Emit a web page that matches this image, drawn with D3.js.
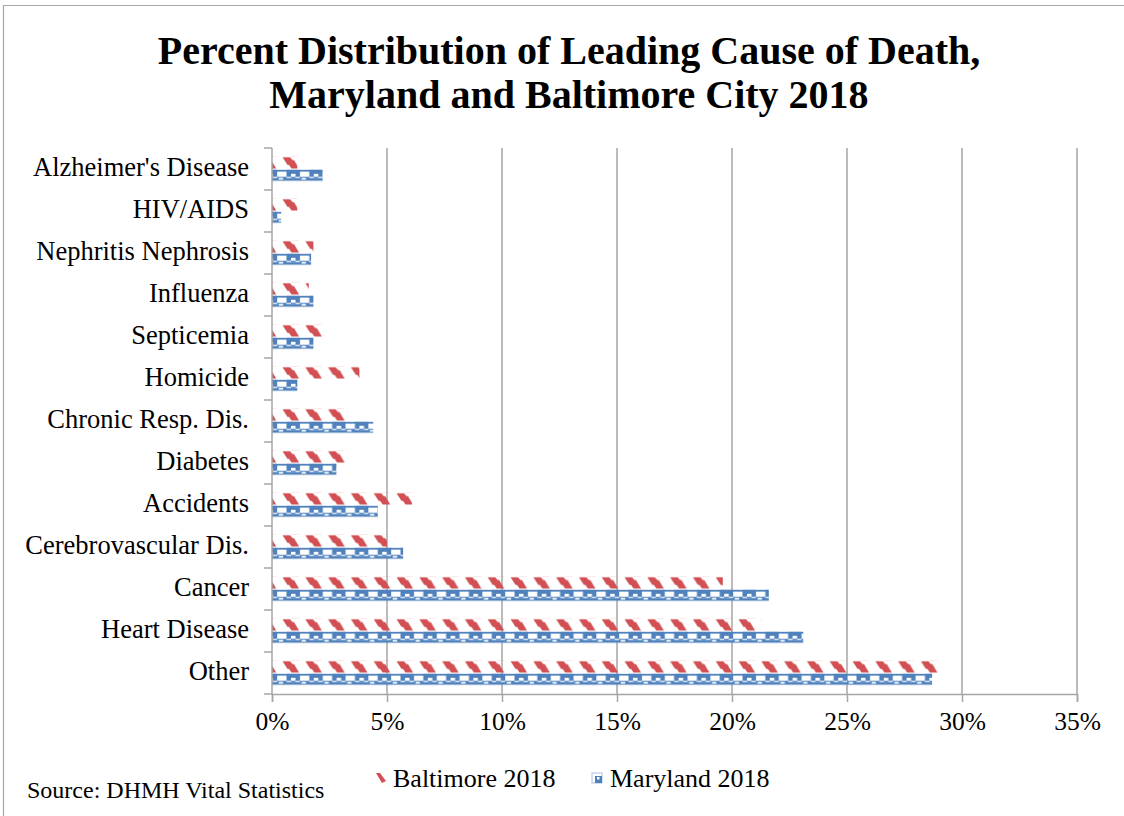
<!DOCTYPE html>
<html>
<head>
<meta charset="utf-8">
<script src="https://cdn.jsdelivr.net/npm/d3@7"></script>
<style>
  html, body { margin: 0; padding: 0; background: #fff; }
  svg { display: block; }
  text { font-family: "Liberation Serif", "Times New Roman", serif; fill: #000; }
</style>
</head>
<body>
<svg id="chart" width="1124" height="816"></svg>
<script>
// Leading causes of death, listed top to bottom
const categories = [
  "Alzheimer's Disease", "HIV/AIDS", "Nephritis Nephrosis", "Influenza",
  "Septicemia", "Homicide", "Chronic Resp. Dis.", "Diabetes", "Accidents",
  "Cerebrovascular Dis.", "Cancer", "Heart Disease", "Other"
];
const seriesNames = ["Baltimore 2018", "Maryland 2018"];
// Percent of all deaths
const baltimore = [1.1, 1.1, 1.8, 1.6, 2.3, 3.8, 3.2, 3.3, 6.1, 5.0, 19.6, 21.3, 29.1];
const maryland  = [2.2, 0.4, 1.7, 1.8, 1.8, 1.1, 4.4, 2.8, 4.6, 5.7, 21.6, 23.1, 28.7];
const xTicks = [0, 5, 10, 15, 20, 25, 30, 35];
const titleLines = [
  "Percent Distribution of Leading Cause of Death,",
  "Maryland and Baltimore City 2018"
];
const sourceNote = "Source: DHMH Vital Statistics";

const RED = "#d24f53";
const BLUE = "#4f81bd";
const GRID = "#a6a6a6";

const svg = d3.select("#chart");

// outer chart border (top and left edges are visible)
svg.append("path")
  .attr("d", "M3.5,816 V5.5 H1124")
  .attr("fill", "none").attr("stroke", GRID).attr("stroke-width", 1.2);

const plot = { left: 272, right: 1077, top: 148, bottom: 694 };

const x = d3.scaleLinear().domain([0, 35]).range([plot.left, plot.right]);
const y = d3.scaleBand().domain(categories).range([plot.top, plot.bottom]).paddingInner(0).paddingOuter(0);
const groupH = 25;
const yInner = d3.scaleBand().domain(seriesNames)
  .range([(y.bandwidth() - groupH) / 2, (y.bandwidth() + groupH) / 2]);
const barH = yInner.bandwidth();

// fill patterns
const defs = svg.append("defs");
const tileW = 22.8;

const redPat = defs.append("pattern")
  .attr("id", "patRed").attr("patternUnits", "userSpaceOnUse")
  .attr("x", plot.left + 10).attr("y", 0).attr("width", tileW).attr("height", barH);
redPat.append("polygon")
  .attr("points", `0.5,0.8 8,0.8 10.5,3.5 12,3.5 17,${barH - 0.6} 9.5,${barH - 0.6} 7,8.5 5.5,8.5`)
  .attr("fill", RED);
// wrap-around piece of the dash so tile edges stay continuous
redPat.append("polygon")
  .attr("points", `${-tileW + 0.5},0.8 ${-tileW + 8},0.8 ${-tileW + 10.5},3.5 ${-tileW + 12},3.5 ${-tileW + 17},${barH - 0.6} ${-tileW + 9.5},${barH - 0.6} ${-tileW + 7},8.5 ${-tileW + 5.5},8.5`)
  .attr("fill", RED);

const bluePat = defs.append("pattern")
  .attr("id", "patBlue").attr("patternUnits", "userSpaceOnUse")
  .attr("x", plot.left + 13).attr("y", 0).attr("width", tileW).attr("height", barH);
bluePat.append("rect").attr("x", 0).attr("y", 0.8).attr("width", tileW).attr("height", 1.8).attr("fill", BLUE);
bluePat.append("rect").attr("x", 1.5).attr("y", 0.8).attr("width", 13.5).attr("height", 7).attr("fill", BLUE);
bluePat.append("rect").attr("x", 6).attr("y", 4.8).attr("width", 4.5).attr("height", 3).attr("fill", "#fff");
bluePat.append("rect").attr("x", 0).attr("y", 7.8).attr("width", tileW).attr("height", 3.9).attr("fill", BLUE);
bluePat.append("rect").attr("x", 16.5).attr("y", 8.9).attr("width", 4.5).attr("height", 1.7).attr("fill", "#fff");
bluePat.append("rect").attr("x", 1.5).attr("y", 7.8).attr("width", 13.5).attr("height", 1.2).attr("fill", "#fff");
bluePat.append("rect").attr("x", 6).attr("y", 7.8).attr("width", 4.5).attr("height", 1.2).attr("fill", BLUE);

// vertical gridlines
svg.append("g").selectAll("line")
  .data(xTicks.filter(d => d > 0))
  .join("line")
  .attr("x1", d => x(d)).attr("x2", d => x(d))
  .attr("y1", plot.top).attr("y2", plot.bottom)
  .attr("stroke", GRID).attr("stroke-width", 1.5);

// bars
const rows = categories.map((c, i) => ({ cat: c, values: [baltimore[i], maryland[i]] }));
const rowG = svg.append("g").selectAll("g")
  .data(rows).join("g");
rowG.each(function (row) {
  row.values.forEach((v, j) => {
    const name = seriesNames[j];
    d3.select(this).append("g")
      .attr("transform", `translate(0,${y(row.cat) + yInner(name)})`)
      .append("rect")
      .attr("x", x(0)).attr("y", 0)
      .attr("width", x(v) - x(0)).attr("height", barH)
      .attr("fill", j === 0 ? "url(#patRed)" : "url(#patBlue)");
  });
});

// x axis
const xAxis = d3.axisBottom(x).tickValues(xTicks).tickSize(8).tickPadding(8)
  .tickFormat(d => d + "%");
const gx = svg.append("g").attr("transform", `translate(0,${plot.bottom})`).call(xAxis);
gx.select(".domain").attr("stroke", GRID).attr("stroke-width", 1.5);
gx.selectAll(".tick line").attr("stroke", GRID).attr("stroke-width", 1.5);
gx.selectAll(".tick text").attr("font-size", 25.5).attr("dy", "0.8em")
  .style("font-family", "'Liberation Serif', serif");

// y axis with ticks on the category boundaries
svg.append("line")
  .attr("x1", plot.left).attr("x2", plot.left)
  .attr("y1", plot.top).attr("y2", plot.bottom)
  .attr("stroke", GRID).attr("stroke-width", 1.5);
const bounds = categories.map(c => y(c)).concat([plot.bottom]);
svg.append("g").selectAll("line").data(bounds).join("line")
  .attr("x1", plot.left - 8).attr("x2", plot.left)
  .attr("y1", d => d).attr("y2", d => d)
  .attr("stroke", GRID).attr("stroke-width", 1.5);
svg.append("g").selectAll("text").data(categories).join("text")
  .attr("x", 249).attr("y", d => y(d) + y.bandwidth() / 2 - 2)
  .attr("dy", "0.35em").attr("text-anchor", "end")
  .attr("font-size", 26.5).text(d => d);

// title
svg.append("g").selectAll("text").data(titleLines).join("text")
  .attr("x", 569).attr("y", (d, i) => 64 + i * 44)
  .attr("text-anchor", "middle").attr("font-size", 40).attr("font-weight", "bold")
  .text(d => d);

// legend
const legend = [
  { name: seriesNames[0], mx: 376, tx: 393, fill: RED },
  { name: seriesNames[1], mx: 592, tx: 610, fill: BLUE }
];
const lg = svg.append("g");
lg.append("polygon")
  .attr("points", `${legend[0].mx},${773} ${legend[0].mx + 4},${773} ${legend[0].mx + 10},${781} ${legend[0].mx + 6},${783}`)
  .attr("fill", RED);
lg.append("rect").attr("x", legend[1].mx).attr("y", 773).attr("width", 10).attr("height", 10)
  .attr("fill", "#fff").attr("stroke", "#a9c1e3").attr("stroke-width", 1);
lg.append("rect").attr("x", legend[1].mx + 3).attr("y", 776).attr("width", 7).attr("height", 7)
  .attr("fill", BLUE);
lg.append("rect").attr("x", legend[1].mx + 5).attr("y", 777).attr("width", 2.5).attr("height", 2.5)
  .attr("fill", "#fff");
lg.selectAll("text").data(legend).join("text")
  .attr("x", d => d.tx).attr("y", 787)
  .attr("font-size", 26).text(d => d.name);

// source note
svg.append("text").attr("x", 27).attr("y", 798).attr("font-size", 24).text(sourceNote);
</script>
</body>
</html>
